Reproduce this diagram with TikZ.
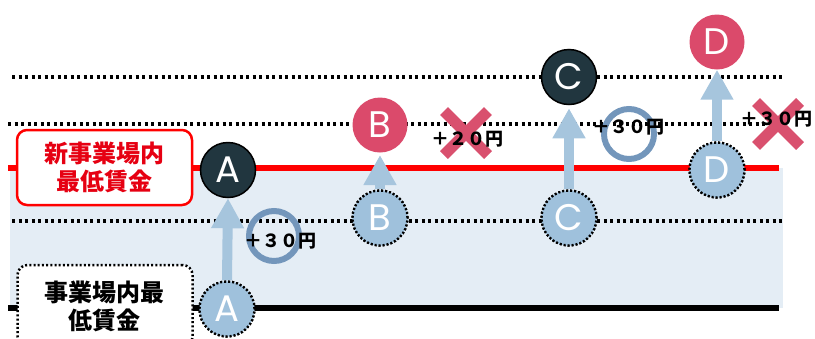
\documentclass[tikz,border=0pt]{standalone}
\usepackage{fontspec}
\setmainfont{Noto Sans CJK JP}
\newfontfamily\letterfont{Poppins}
\usetikzlibrary{arrows.meta}
\definecolor{darkc}{HTML}{21363F}
\definecolor{redc}{HTML}{DB4A6B}
\definecolor{lightc}{HTML}{9FC1DC}
\definecolor{arrowc}{HTML}{A6C5DD}
\definecolor{ringc}{HTML}{7396BB}
\definecolor{crossc}{HTML}{D9506E}
\definecolor{bandc}{HTML}{E4EDF5}
\definecolor{linered}{HTML}{FF0000}
\definecolor{textred}{HTML}{E60012}
\tikzset{
  dotline/.style={line width=3.3pt, dash pattern=on 3.3pt off 3.2pt},
  bigc/.style={circle, minimum size=55pt, inner sep=0pt, font=\letterfont\fontsize{37}{37}\selectfont, text=white},
  darkcirc/.style={bigc, fill=darkc, draw=black, line width=1.5pt},
  redcirc/.style={bigc, fill=redc},
  lightcirc/.style={bigc, fill=lightc, draw=black, line width=2.3pt, dash pattern=on 2pt off 2pt},
  uparrow/.style={draw=arrowc, line width=10pt, -{Triangle[width=31pt,length=30pt]}},
  ring/.style={circle, draw=ringc, line width=6pt, minimum size=50pt, inner sep=0pt},
  crossx/.style={draw=crossc, line width=11pt},
  gain/.style={anchor=west, inner sep=0pt, font=\bfseries\fontsize{18}{18}\selectfont},
  labelbox/.style={rectangle, rounded corners=10pt, fill=white, line width=2.5pt, minimum width=175pt, align=center, font=\bfseries\fontsize{24}{28}\selectfont}
}
\begin{document}
\begin{tikzpicture}[x=1pt,y=-1pt]
\useasboundingbox (0,0) rectangle (815,338);
\clip (0,0) rectangle (815,338);
% band
\fill[bandc] (10,168) rectangle (783,308);
% dotted levels
\draw[dotline] (12,77) -- (783,77);
\draw[dotline] (8,124) -- (783,124);
\draw[dotline] (12,221) -- (783,221);
% solid levels
\draw[linered, line width=6pt] (8,168) -- (779,168);
\draw[black, line width=5.5pt] (8,308) -- (779,308);
% label boxes
\node[labelbox, draw=linered, text=textred, minimum height=75pt] (newmin) at (104.5,167.5) {新事業場内\\最低賃金};
\node[labelbox, draw=black, dash pattern=on 2pt off 2.2pt, text=black, minimum height=82pt] (oldmin) at (105,306) {事業場内最\\低賃金};
% rings
\node[ring] (ringA) at (274,236) {};
\node[ring] (ringC) at (629,134) {};
% crosses
\coordinate (xB) at (466,133);
\coordinate (xD) at (778,124);
\draw[crossx] (xB) ++(-22,-22) -- ++(44,44) (xB) ++(-22,22) -- ++(44,-44);
\draw[crossx] (xD) ++(-22,-22) -- ++(44,44) (xD) ++(-22,22) -- ++(44,-44);
% gain texts
\node[gain] (tA) at (244,241) {＋３０円};
\node[gain] (tB) at (431,139) {＋２０円};
\node[gain] (tC) at (592,127) {＋３０円};
\node[gain] (tD) at (740,119) {＋３０円};
% circles
\node[darkcirc] (Ad) at (228,170) {A};
\node[lightcirc] (Al) at (227,309) {A};
\node[redcirc] (Br) at (380,125) {B};
\node[lightcirc] (Bl) at (380,218) {B};
\node[darkcirc] (Cd) at (569,77) {C};
\node[lightcirc] (Cl) at (569,218) {C};
\node[redcirc] (Dr) at (717,42) {D};
\node[lightcirc] (Dl) at (717,170) {D};
\coordinate (Btip) at (380,155);
% arrows
\draw[uparrow] (Al.north) -- (Ad.south);
\draw[uparrow] (Bl.north) -- (Btip);
\draw[uparrow] (Cl.north) -- ([yshift=-3pt]Cd.south);
\draw[uparrow] (Dl.north) -- (Dr.south);
% redraw circles on top of arrows
\node[lightcirc] at (Al) {A};
\node[lightcirc] at (Bl) {B};
\node[lightcirc] at (Cl) {C};
\node[lightcirc] at (Dl) {D};
\end{tikzpicture}
\end{document}
